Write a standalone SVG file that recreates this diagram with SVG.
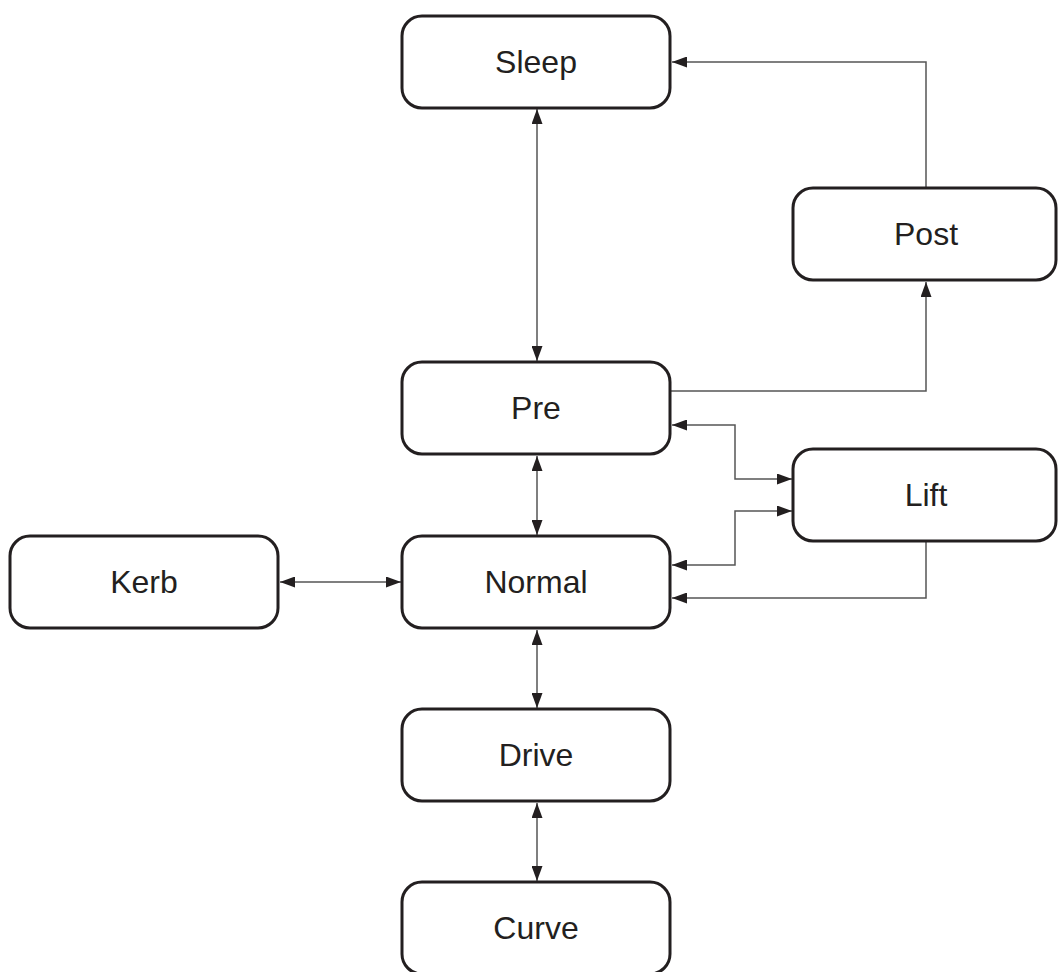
<svg xmlns="http://www.w3.org/2000/svg" width="1058" height="972" viewBox="0 0 1058 972">
<style>
.box{fill:#fff;stroke:#231f20;stroke-width:3}
.lbl{font-family:"Liberation Sans",Arial,sans-serif;font-size:32px;fill:#231f20;text-anchor:middle}
.c{fill:none;stroke:#555;stroke-width:1.5}
</style>
<defs>
<marker id="a" viewBox="0 0 15 11" refX="15" refY="5.5" markerWidth="15" markerHeight="11" markerUnits="userSpaceOnUse" orient="auto-start-reverse">
<path d="M0,0 L15,5.5 L0,11 Z" fill="#231f20"/>
</marker>
</defs>
<rect width="1058" height="972" fill="#fff"/>
<g id="connectors">
<path class="c" d="M537,109 V361" marker-start="url(#a)" marker-end="url(#a)"/>
<path class="c" d="M926,188 V62 H672" marker-end="url(#a)"/>
<path class="c" d="M670,391 H926 V282" marker-end="url(#a)"/>
<path class="c" d="M672,425 H735 V479 H792" marker-start="url(#a)" marker-end="url(#a)"/>
<path class="c" d="M672,565 H735 V511 H792" marker-start="url(#a)" marker-end="url(#a)"/>
<path class="c" d="M926,541 V598 H672" marker-end="url(#a)"/>
<path class="c" d="M537,456 V535" marker-start="url(#a)" marker-end="url(#a)"/>
<path class="c" d="M280,582 H401" marker-start="url(#a)" marker-end="url(#a)"/>
<path class="c" d="M537,630 V708" marker-start="url(#a)" marker-end="url(#a)"/>
<path class="c" d="M537,803 V881" marker-start="url(#a)" marker-end="url(#a)"/>
</g>
<g id="sleep"><rect class="box" x="402" y="16" width="268" height="92" rx="20"/><text class="lbl" x="536" y="73">Sleep</text></g>
<g id="post"><rect class="box" x="793" y="188" width="263" height="92" rx="20"/><text class="lbl" x="926" y="245">Post</text></g>
<g id="pre"><rect class="box" x="402" y="362" width="268" height="92" rx="20"/><text class="lbl" x="536" y="419">Pre</text></g>
<g id="lift"><rect class="box" x="793" y="449" width="263" height="92" rx="20"/><text class="lbl" x="926" y="506">Lift</text></g>
<g id="kerb"><rect class="box" x="10" y="536" width="268" height="92" rx="20"/><text class="lbl" x="144" y="593">Kerb</text></g>
<g id="normal"><rect class="box" x="402" y="536" width="268" height="92" rx="20"/><text class="lbl" x="536" y="593">Normal</text></g>
<g id="drive"><rect class="box" x="402" y="709" width="268" height="92" rx="20"/><text class="lbl" x="536" y="766">Drive</text></g>
<g id="curve"><rect class="box" x="402" y="882" width="268" height="92" rx="20"/><text class="lbl" x="536" y="939">Curve</text></g>
</svg>
